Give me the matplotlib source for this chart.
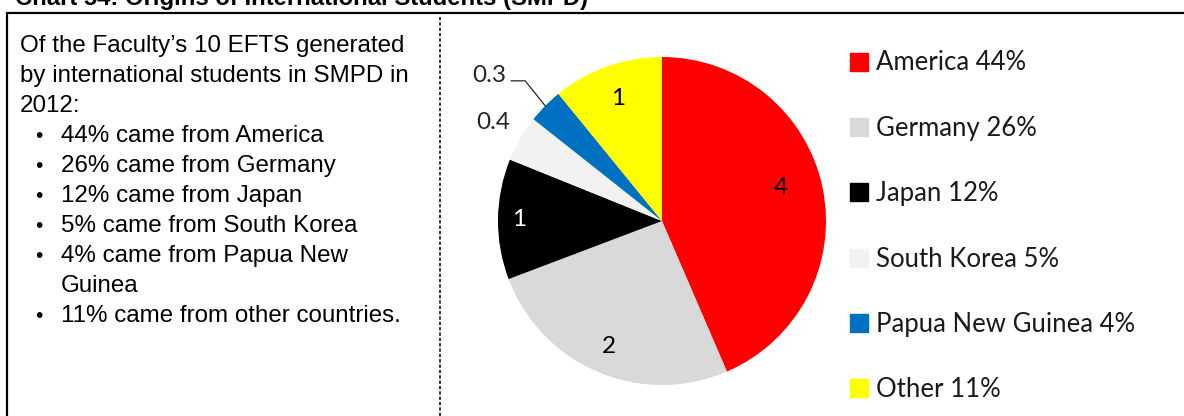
import numpy as np
import matplotlib.pyplot as plt
import matplotlib.patches as mpatches

# EFTS generated by international students in SMPD, 2012
countries = ['America', 'Germany', 'Japan', 'South Korea', 'Papua New Guinea', 'Other']
efts = [4.4, 2.6, 1.2, 0.46, 0.35, 1.1]
share_pct = [44, 26, 12, 5, 4, 11]
colors = ['#ff0000', '#d9d9d9', '#000000', '#f2f2f2', '#0070c0', '#ffff00']

title = 'Chart 54: Origins of International Students (SMPD)'
intro = ["Of the Faculty\u2019s 10 EFTS generated",
         "by international students in SMPD in",
         "2012:"]
bullets = ["44% came from America",
           "26% came from Germany",
           "12% came from Japan",
           "5% came from South Korea",
           "4% came from Papua New",
           "Guinea",
           "11% came from other countries."]

W, H = 1184, 416


def trunc_label(v):
    # data labels show the value cut down, not rounded
    if v >= 1:
        return str(int(v))
    return str(int(v * 10) / 10)


fig = plt.figure(figsize=(W / 100, H / 100), dpi=100)
ax = fig.add_axes([0, 0, 1, 1])

cx, cy, r = 662, H - 221, 164
wedges, _ = ax.pie(efts, colors=colors, startangle=90, counterclock=False,
                   center=(cx, cy), radius=r,
                   wedgeprops=dict(linewidth=0))
ax.set_xlim(0, W)
ax.set_ylim(0, H)
ax.set_aspect('auto')
ax.axis('off')

# data labels: inside ones at a fraction of the radius, small slices outside
lab_dist = [0.75, 0.83, 0.87, 1.19, 1.36, 0.79]
lab_turn = [4, 0, 0, 0, 0, 0]
lab_col = ['black', 'black', 'white', '#262626', '#262626', 'black']
lfont = dict(fontsize=17.5, family='Lato')
for k, (w, v, d, c) in enumerate(zip(wedges, efts, lab_dist, lab_col)):
    ang = np.deg2rad((w.theta1 + w.theta2) / 2 + lab_turn[k])
    x = cx + d * r * np.cos(ang)
    y = cy + d * r * np.sin(ang)
    if countries[k] == 'Papua New Guinea':
        # leader line from the wedge edge to the label
        ex = cx + r * np.cos(ang)
        ey = cy + r * np.sin(ang)
        ax.plot([ex, ex - 20, ex - 34], [ey, ey + 25, ey + 25], color='#262626', lw=0.9)
        ax.text(ex - 39, ey + 24, trunc_label(v), ha='right', va='baseline',
                color=c, **lfont)
        continue
    ax.text(x, y, trunc_label(v), ha='center', va='center', color=c, **lfont)

# legend
handles = [mpatches.Patch(color=c) for c in colors]
labels = [f'{n} {p}%' for n, p in zip(countries, share_pct)]
leg = ax.legend(handles, labels, loc='upper left',
                bbox_to_anchor=(850 / W, 1 - 50.5 / H),
                frameon=False, prop=dict(family='Lato', size=18.5),
                handlelength=0.70, handleheight=0.70, handletextpad=0.3,
                labelspacing=1.572, borderaxespad=0, borderpad=0)
for t in leg.get_texts():
    t.set_color('#1a1a1a')

# frame around the panel and the dotted divider
ax.plot([7, 7, W], [0, H - 12.5, H - 12.5], color='black', lw=1.6,
        solid_joinstyle='miter', clip_on=False)
ax.plot([440, 440], [0, H - 17], color='black', lw=1.1, dashes=(2.2, 1.3))

# title, mostly cut off by the top edge
ax.text(15, H - 5, title, ha='left', va='baseline', fontsize=17.2,
        family='Liberation Sans', weight='bold', clip_on=False)

# text panel
tfont = dict(family='Liberation Sans', fontsize=17.35, va='baseline', ha='left')
step = 29.93
for i, line in enumerate(intro):
    ax.text(20, H - (52.3 + step * i), line, **tfont)
for j, line in enumerate(bullets):
    yb = H - (52.3 + step * (j + 3))
    if line != 'Guinea':
        ax.text(39, yb, '\u2022', **dict(tfont, ha='center', fontsize=15))
    ax.text(61, yb, line, **tfont)

fig.savefig('out.png', dpi=100)
